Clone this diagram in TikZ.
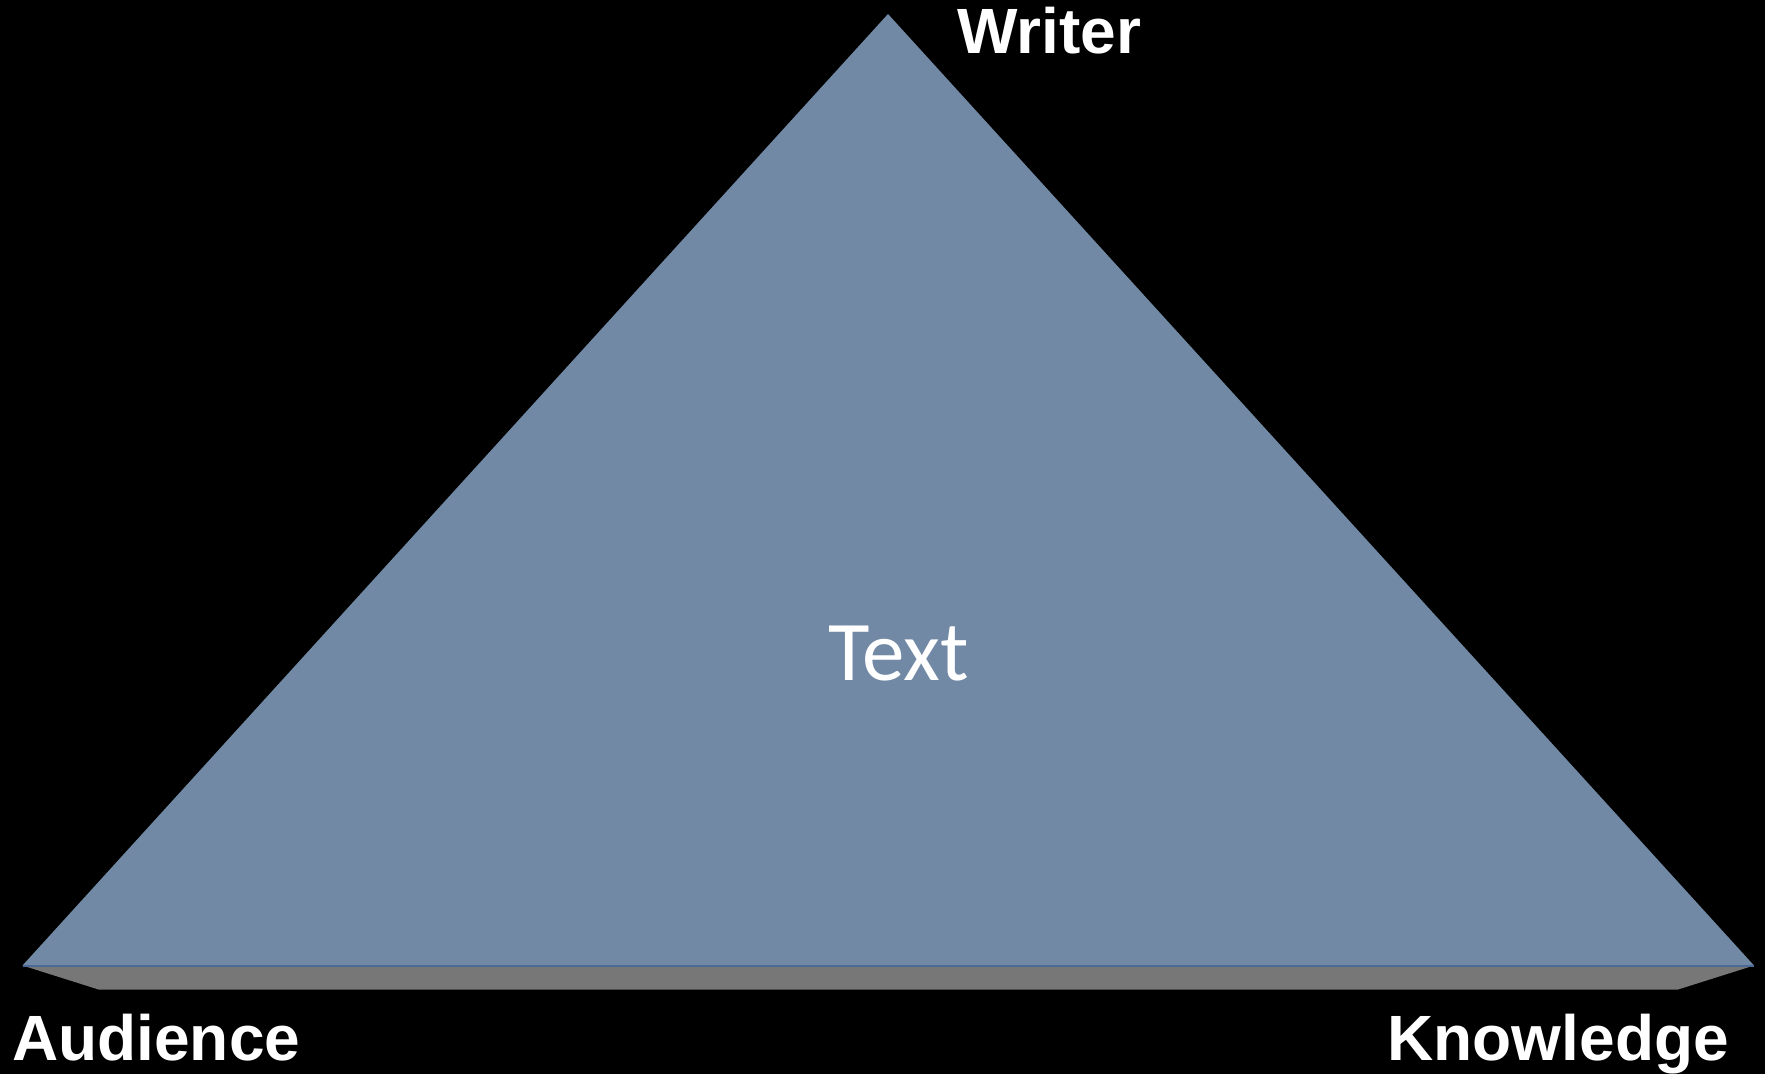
\documentclass[tikz,border=0pt]{standalone}
\usepackage{fontspec}
\setmainfont{Liberation Sans}
\newfontfamily\carlito{Carlito}
\definecolor{triblue}{RGB}{114,137,165}
\definecolor{edgeblue}{RGB}{75,105,150}
\definecolor{basegray}{RGB}{119,119,119}
\tikzset{
  lbl/.style={text=white, font=\fontsize{64}{70}\selectfont\bfseries, inner sep=0pt},
  midlbl/.style={text=white, font=\carlito\fontsize{85}{92}\selectfont, inner sep=0pt}
}
\begin{document}
\begin{tikzpicture}[x=1pt,y=-1pt]
\fill[black] (0,0) rectangle (1765,1074);
\useasboundingbox (0,0) rectangle (1765,1074);
\coordinate (apex) at (888,14);
\coordinate (bl) at (22.5,965.5);
\coordinate (br) at (1754,965.5);
\coordinate (gl) at (98.5,989.5);
\coordinate (gr) at (1678,989.5);
\fill[basegray] (bl) -- (gl) -- (gr) -- (br) -- cycle;
\fill[triblue] (apex) -- (br) -- (bl) -- cycle;
\draw[edgeblue, line width=2pt] (bl) -- (br);
\node[lbl, anchor=base west] (writer) at (957,53) {Writer};
\node[lbl, anchor=base west] (audience) at (12,1060) {Audience};
\node[lbl, anchor=base east] (knowledge) at (1729,1060) {Knowledge};
\node[midlbl, anchor=base west] (text) at (828,680) {Text};
\end{tikzpicture}
\end{document}
